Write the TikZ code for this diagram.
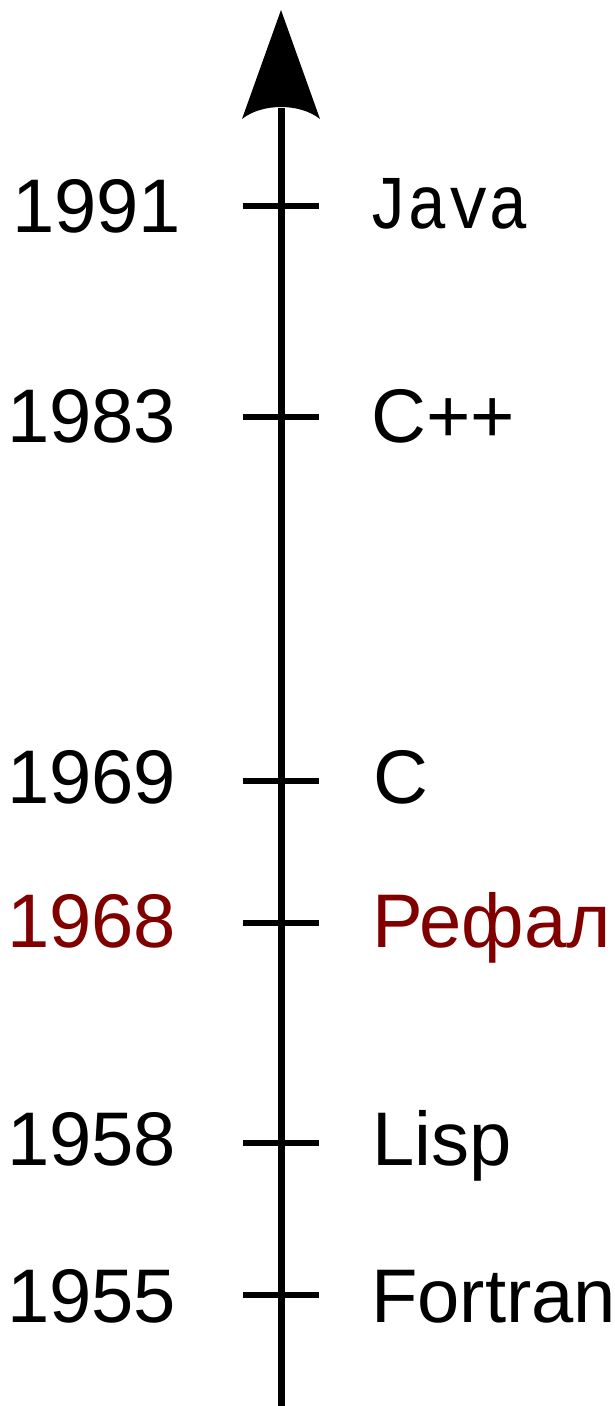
\documentclass[tikz,border=0pt]{standalone}
\usepackage{fontspec}
\setmainfont{Liberation Sans}
\newfontfamily\monofam[FakeStretch=0.887]{Liberation Mono}
\definecolor{refalred}{HTML}{800000}
\begin{document}
\begin{tikzpicture}[x=1pt,y=-1pt,
  axisline/.style={line width=7pt},
  tickline/.style={line width=6.5pt},
  yearlbl/.style={anchor=base west,inner sep=0pt,font=\fontsize{76}{80}\selectfont},
  langlbl/.style={anchor=base west,inner sep=0pt,font=\fontsize{76}{80}\selectfont}]
\useasboundingbox (0,0) rectangle (615,1406);
\clip (0,0) rectangle (615,1406);
\coordinate (bottom) at (281,1406);
\coordinate (base) at (281,108);
\coordinate (tip) at (281,10);
\draw[axisline] (bottom) -- (base);
\fill (tip) -- (320,119) .. controls (300,103) and (262,103) .. (242,119) -- cycle;
\foreach \yy/\nm in {206/t1991,417/t1983,781/t1969,923/t1968,1143/t1958,1295/t1955}{
  \coordinate (\nm l) at (243,\yy);
  \coordinate (\nm r) at (319,\yy);
  \draw[tickline] (\nm l) -- (\nm r);
}
\node[yearlbl] (y1991) at (12,232) {1991};
\node[yearlbl] (y1983) at (7,442) {1983};
\node[yearlbl] (y1969) at (7,803) {1969};
\node[yearlbl,text=refalred] (y1968) at (7,947) {1968};
\node[yearlbl] (y1958) at (7,1165) {1958};
\node[yearlbl] (y1955) at (7,1322) {1955};
\node[langlbl,font=\monofam\fontsize{76}{80}\selectfont] (java) at (367,228) {Java};
\node[langlbl] (cpp) at (371,442) {C++};
\node[langlbl] (c) at (373,803) {C};
\node[langlbl,text=refalred] (refal) at (372,947) {Рефал};
\node[langlbl] (lisp) at (372,1165) {Lisp};
\node[langlbl] (fortran) at (371,1322) {Fortran};
\end{tikzpicture}
\end{document}
